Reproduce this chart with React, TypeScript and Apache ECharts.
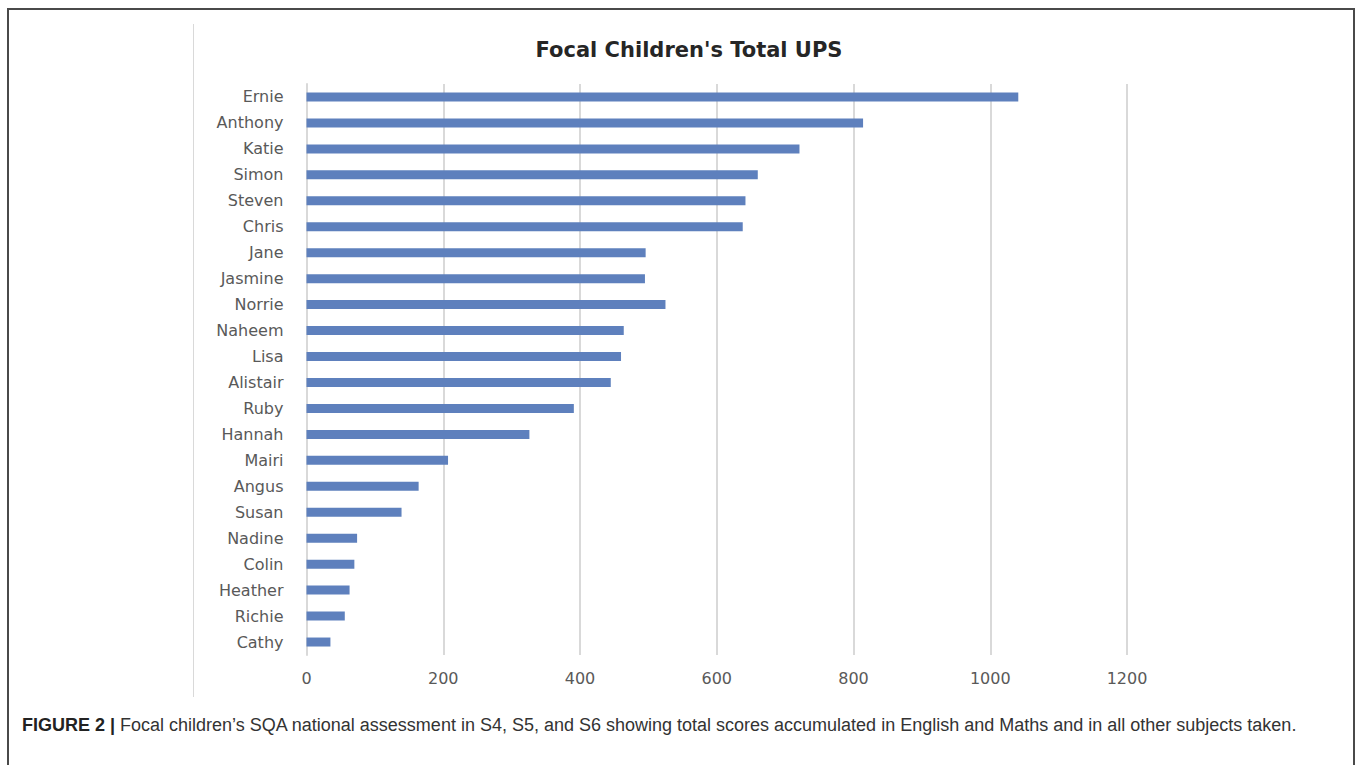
import React, { useEffect, useRef } from "react";
import * as echarts from "echarts";

const names = [
  "Ernie", "Anthony", "Katie", "Simon", "Steven", "Chris", "Jane", "Jasmine",
  "Norrie", "Naheem", "Lisa", "Alistair", "Ruby", "Hannah", "Mairi", "Angus",
  "Susan", "Nadine", "Colin", "Heather", "Richie", "Cathy",
];
const totalUPS = [
  1041, 814, 721, 660, 642, 638, 496, 495,
  525, 464, 460, 445, 391, 326, 207, 164,
  139, 74, 70, 63, 56, 35,
];
const chartTitle = "Focal Children's Total UPS";
const captionBold = "FIGURE 2 |";
const captionText =
  " Focal children\u2019s SQA national assessment in S4, S5, and S6 showing total scores accumulated in English and Maths and in all other subjects taken.";

export default function App() {
  const ref = useRef<HTMLDivElement>(null);
  useEffect(() => {
    if (!ref.current) return;
    const chart = echarts.init(ref.current, null, { renderer: "svg" });
    chart.setOption({
      animation: false,
      backgroundColor: "#ffffff",
      title: {
        text: chartTitle,
        left: 684,
        textAlign: "center",
        top: 34,
        textStyle: {
          fontFamily: "DejaVu Sans",
          fontWeight: "bold",
          fontSize: 21,
          color: "#262626",
        },
      },
      grid: { left: 306.5, right: 230, top: 84, bottom: 110, containLabel: false },
      xAxis: {
        type: "value",
        min: 0,
        max: 1200,
        interval: 200,
        axisLine: { show: false },
        axisTick: { show: false },
        splitLine: { show: true, lineStyle: { color: "#d9d9d9", width: 2 } },
        axisLabel: {
          margin: 15,
          color: "#595959",
          fontFamily: "DejaVu Sans",
          fontSize: 16,
          formatter: (v: number) => String(v),
        },
      },
      yAxis: {
        type: "category",
        data: names,
        inverse: true,
        axisLine: { show: true, lineStyle: { color: "#d9d9d9", width: 2 } },
        axisTick: { show: false },
        axisLabel: {
          margin: 23,
          color: "#595959",
          fontFamily: "DejaVu Sans",
          fontSize: 16,
        },
      },
      series: [
        {
          type: "bar",
          data: totalUPS,
          barWidth: 9,
          itemStyle: { color: "#5E80BD" },
        },
      ],
      graphic: [
        {
          type: "rect",
          shape: { x: 8, y: 9, width: 1346, height: 800 },
          style: { fill: "none", stroke: "#4a4a4a", lineWidth: 2 },
          silent: true,
        },
        {
          type: "line",
          shape: { x1: 193.5, y1: 24, x2: 193.5, y2: 697 },
          style: { stroke: "#d9d9d9", lineWidth: 1 },
          silent: true,
        },
        {
          type: "text",
          x: 22,
          y: 716,
          style: {
            text: "{b|" + captionBold + "}" + captionText,
            fontFamily: "Liberation Sans",
            fontSize: 18,
            fill: "#333333",
            rich: {
              b: {
                fontFamily: "Liberation Sans",
                fontWeight: "bold",
                fontSize: 18,
                fill: "#222222",
              },
            },
          },
          silent: true,
        },
      ],
    });
    return () => chart.dispose();
  }, []);
  return (
    <div
      ref={ref}
      style={{ position: "absolute", left: 0, top: 0, width: 1357, height: 765 }}
    />
  );
}
